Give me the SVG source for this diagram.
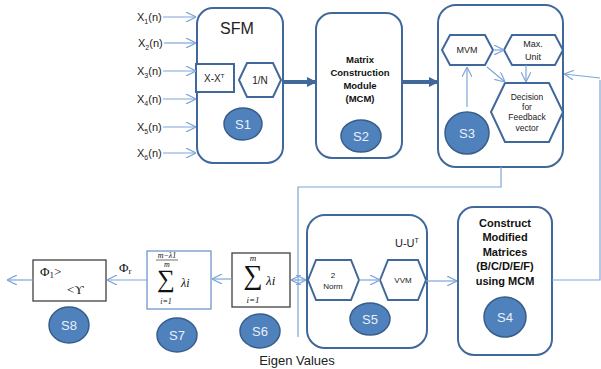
<svg xmlns="http://www.w3.org/2000/svg" width="601" height="369" viewBox="0 0 601 369">
<defs>
<style>
.box{fill:#fff;stroke:#41689A;stroke-width:2}
.hex{fill:#fff;stroke:#41689A;stroke-width:2}
.sq{fill:#fff;stroke:#404040;stroke-width:1.3}
.sqb{fill:#fff;stroke:#6F97CC;stroke-width:1.3}
.ell{fill:#4F81BD;stroke:#385D8A;stroke-width:1.5}
.et{font-family:"Liberation Sans",Arial,sans-serif;font-size:13px;fill:#EAF0F8;text-anchor:middle}
.t{font-family:"Liberation Sans",Arial,sans-serif;fill:#222}
.b{font-family:"Liberation Sans",Arial,sans-serif;font-weight:bold;fill:#111;text-anchor:middle}
.s{font-family:"Liberation Serif","DejaVu Serif",serif;fill:#111}
.c{fill:none;stroke:#7EA6D8;stroke-width:1.2}
.thick{fill:none;stroke:#41689A;stroke-width:4}
</style>
<marker id="a" viewBox="0 0 10 10" refX="10" refY="5" markerWidth="10" markerHeight="10" markerUnits="userSpaceOnUse" orient="auto-start-reverse">
<path d="M0,0 L10,5 L0,10" fill="none" stroke="#7EA6D8" stroke-width="1.2"/>
</marker>
<marker id="A" viewBox="0 0 10 10" refX="9" refY="5" markerWidth="10" markerHeight="10" markerUnits="userSpaceOnUse" orient="auto">
<path d="M0,0 L10,5 L0,10 Z" fill="#41689A"/>
</marker>
</defs>

<g id="inputs">
<text class="t" font-size="11" x="137" y="21">X<tspan font-size="7" dy="3">1</tspan><tspan dy="-3">(n)</tspan></text>
<text class="t" font-size="11" x="138" y="47">X<tspan font-size="7" dy="3">2</tspan><tspan dy="-3">(n)</tspan></text>
<text class="t" font-size="11" x="137" y="75">X<tspan font-size="7" dy="3">3</tspan><tspan dy="-3">(n)</tspan></text>
<text class="t" font-size="11" x="137" y="103">X<tspan font-size="7" dy="3">4</tspan><tspan dy="-3">(n)</tspan></text>
<text class="t" font-size="11" x="137" y="131">X<tspan font-size="7" dy="3">5</tspan><tspan dy="-3">(n)</tspan></text>
<text class="t" font-size="11" x="137" y="157">X<tspan font-size="7" dy="3">6</tspan><tspan dy="-3">(n)</tspan></text>
</g>

<g id="S1">
<rect class="box" x="197" y="8" width="86" height="155" rx="16"/>
<text class="t" font-size="16" x="237" y="34" text-anchor="middle">SFM</text>
<rect class="box" x="196" y="64" width="38" height="28" rx="0"/>
<text class="t" font-size="10" x="204" y="82">X-X<tspan font-size="6" dy="-4">T</tspan></text>
<polygon class="hex" points="239,80 247,63 273,63 281,80 273,97 247,97"/>
<text class="t" font-size="10" x="260" y="84" text-anchor="middle">1/N</text>
<ellipse class="ell" cx="243" cy="124" rx="19" ry="16"/>
<text class="et" x="243" y="129">S1</text>
</g>

<g id="S2">
<rect class="box" x="316" y="13" width="86" height="145" rx="16"/>
<text class="b" font-size="9.5" x="360" y="63">Matrix</text>
<text class="b" font-size="9.5" x="360" y="76">Construction</text>
<text class="b" font-size="9.5" x="360" y="89">Module</text>
<text class="b" font-size="9.5" x="360" y="102">(MCM)</text>
<ellipse class="ell" cx="361" cy="136" rx="20" ry="16"/>
<text class="et" x="361" y="141">S2</text>
</g>

<g id="S3">
<rect class="box" x="438" y="5" width="125" height="162" rx="18"/>
<polygon class="hex" points="442,50 450,35 485,35 493,50 485,65 450,65"/>
<text class="t" font-size="9" x="467" y="53" text-anchor="middle">MVM</text>
<polygon class="hex" points="504,50 512,35 555,35 563,50 555,65 512,65"/>
<text class="t" font-size="9" x="533" y="47" text-anchor="middle">Max.</text>
<text class="t" font-size="9" x="533" y="60" text-anchor="middle">Unit</text>
<polygon class="hex" points="491,112 505,83 549,83 563,112 549,142 505,142"/>
<text class="t" font-size="8.5" x="527" y="100" text-anchor="middle">Decision</text>
<text class="t" font-size="8.5" x="527" y="110" text-anchor="middle">for</text>
<text class="t" font-size="8.5" x="527" y="120" text-anchor="middle">Feedback</text>
<text class="t" font-size="8.5" x="527" y="131" text-anchor="middle">vector</text>
<ellipse class="ell" cx="467" cy="133" rx="22" ry="21"/>
<text class="et" x="467" y="138">S3</text>
</g>

<g id="S4">
<rect class="box" x="458" y="207" width="94" height="148" rx="16"/>
<text class="b" font-size="11" x="505" y="227">Construct</text>
<text class="b" font-size="11" x="505" y="241">Modified</text>
<text class="b" font-size="11" x="505" y="256">Matrices</text>
<text class="b" font-size="11" x="505" y="270">(B/C/D/E/F)</text>
<text class="b" font-size="11" x="505" y="285">using MCM</text>
<ellipse class="ell" cx="505" cy="317" rx="21" ry="20"/>
<text class="et" x="505" y="322">S4</text>
</g>

<g id="S5">
<rect class="box" x="307" y="215" width="120" height="133" rx="18"/>
<text class="t" font-size="11" x="395" y="247">U-U<tspan font-size="7" dy="-4">T</tspan></text>
<polygon class="hex" points="308,280 316,260 351,260 359,280 351,300 316,300"/>
<text class="t" font-size="8" x="333" y="278" text-anchor="middle">2</text>
<text class="t" font-size="8" x="333" y="289" text-anchor="middle">Norm</text>
<polygon class="hex" points="380,280 388,260 418,260 426,280 418,300 388,300"/>
<text class="t" font-size="8" x="403" y="283" text-anchor="middle">VVM</text>
<ellipse class="ell" cx="370" cy="319" rx="20" ry="16"/>
<text class="et" x="370" y="324">S5</text>
</g>

<g id="S6">
<rect class="sq" x="232" y="253" width="58" height="54"/>
<text class="s" font-size="9" font-style="italic" x="253" y="261" text-anchor="middle">m</text>
<text class="s" font-size="27" x="253" y="284" text-anchor="middle">∑</text>
<text class="s" font-size="13" font-style="italic" x="266" y="285">λi</text>
<text class="s" font-size="9" font-style="italic" x="253" y="303" text-anchor="middle">i=1</text>
<ellipse class="ell" cx="260" cy="331" rx="20" ry="17"/>
<text class="et" x="260" y="336">S6</text>
</g>

<g id="S7">
<rect class="sqb" x="147" y="251" width="64" height="58"/>
<text class="s" font-size="8" font-style="italic" x="167" y="258" text-anchor="middle">m−λ1</text>
<line x1="156" y1="260" x2="178" y2="260" stroke="#111" stroke-width="0.6"/>
<text class="s" font-size="8" font-style="italic" x="167" y="267" text-anchor="middle">m</text>
<text class="s" font-size="25" x="166" y="287" text-anchor="middle">∑</text>
<text class="s" font-size="12" font-style="italic" x="181" y="287">λi</text>
<text class="s" font-size="8" font-style="italic" x="166" y="304" text-anchor="middle">i=1</text>
<ellipse class="ell" cx="177" cy="335" rx="20" ry="17"/>
<text class="et" x="177" y="340">S7</text>
</g>

<g id="S8">
<rect class="sq" x="33" y="260" width="73" height="41"/>
<text class="s" font-size="13" x="40" y="276">Φ<tspan font-size="9" dy="2">1</tspan><tspan dy="-2">&gt;</tspan></text>
<text class="s" font-size="13" x="67" y="294">&lt;ϒ</text>
<ellipse class="ell" cx="69" cy="325" rx="20" ry="18"/>
<text class="et" x="69" y="330">S8</text>
</g>

<g id="connectors">
<line class="c" x1="163" y1="17" x2="196" y2="17" marker-end="url(#a)"/>
<line class="c" x1="164" y1="43" x2="196" y2="43" marker-end="url(#a)"/>
<line class="c" x1="163" y1="71" x2="196" y2="71" marker-end="url(#a)"/>
<line class="c" x1="163" y1="99" x2="196" y2="99" marker-end="url(#a)"/>
<line class="c" x1="163" y1="127" x2="196" y2="127" marker-end="url(#a)"/>
<line class="c" x1="163" y1="153" x2="196" y2="153" marker-end="url(#a)"/>
<line class="thick" x1="282" y1="82" x2="316" y2="82" marker-end="url(#A)"/>
<line class="thick" x1="402" y1="82" x2="438" y2="82" marker-end="url(#A)"/>
<line class="c" x1="493" y1="50" x2="504" y2="50" marker-end="url(#a)"/>
<line class="c" x1="487" y1="67" x2="505" y2="82" marker-end="url(#a)"/>
<line class="c" x1="526" y1="65" x2="526" y2="82" marker-end="url(#a)"/>
<line class="c" x1="467" y1="107" x2="467" y2="67" marker-end="url(#a)"/>
<path class="c" d="M552,280 H600 V80"/>
<line class="c" x1="600" y1="78" x2="564" y2="74" marker-end="url(#a)"/>
<path class="c" d="M501,167 V187 H298 V337"/>
<line class="c" x1="359" y1="280" x2="380" y2="280" marker-end="url(#a)"/>
<line class="c" x1="426" y1="281" x2="457" y2="281" marker-end="url(#a)"/>
<line class="c" x1="291" y1="280" x2="306" y2="280" marker-start="url(#a)" marker-end="url(#a)"/>
<line class="c" x1="232" y1="279" x2="212" y2="279" marker-end="url(#a)"/>
<line class="c" x1="147" y1="280" x2="107" y2="280" marker-end="url(#a)"/>
<line class="c" x1="33" y1="280" x2="7" y2="280" marker-end="url(#a)"/>
<text class="s" font-size="13" x="119" y="272">Φ<tspan font-size="9" dy="2">r</tspan></text>
<text class="t" font-size="13" x="297" y="365" text-anchor="middle">Eigen Values</text>
</g>
</svg>
